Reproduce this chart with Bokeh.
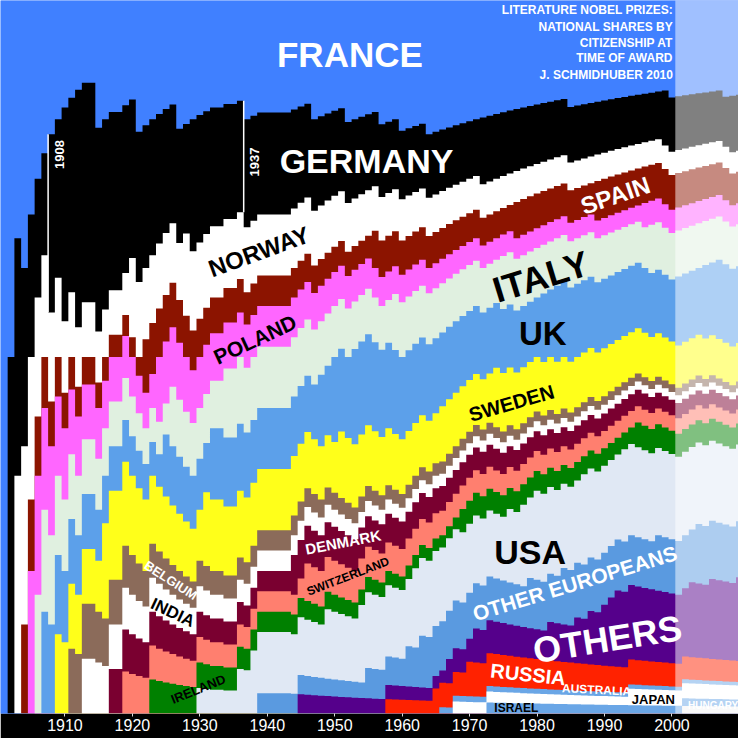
import math
from bokeh.plotting import figure
from bokeh.models import FixedTicker, BoxAnnotation, Range1d
from bokeh.core.properties import value
from bokeh.embed import file_html
from bokeh.resources import INLINE

# ---------------- data ----------------
award_years = list(range(1901, 2011))
# citizenship of literature laureates (shared prize: "A|B" -> half each, "" -> no prize counted)
award_countries = [
    "France", "Germany", "Norway", "France|Spain", "Poland",            # 1901-1905
    "Italy", "UK", "Germany", "Sweden", "Germany",                      # 1906-1910
    "Belgium", "Germany", "India", "", "France",                        # 1911-1915
    "Sweden", "Denmark", "", "Switzerland", "Norway",                   # 1916-1920
    "France", "Spain", "Ireland", "Poland", "UK",                       # 1921-1925
    "Italy", "France", "Norway", "Germany", "USA",                      # 1926-1930
    "Sweden", "UK", "", "Italy", "",                                    # 1931-1935
    "USA", "France", "USA", "Other Europeans", "",                      # 1936-1940
    "", "", "", "Denmark", "Others",                                    # 1941-1945
    "Switzerland", "France", "UK", "USA", "UK",                         # 1946-1950
    "Sweden", "France", "UK", "USA", "Other Europeans",                 # 1951-1955
    "Spain", "France", "Russia", "Italy", "France",                     # 1956-1960
    "Other Europeans", "USA", "Other Europeans", "France", "Russia",    # 1961-1965
    "Israel|Sweden", "Others", "Japan", "Ireland", "Russia",            # 1966-1970
    "Others", "Germany", "Australia", "Sweden", "Italy",                # 1971-1975
    "USA", "Spain", "USA", "Other Europeans", "USA",                    # 1976-1980
    "UK", "Others", "UK", "Other Europeans", "France",                  # 1981-1985
    "Others", "USA", "Others", "Spain", "Others",                       # 1986-1990
    "Others", "Others", "USA", "Japan", "Ireland",                      # 1991-1995
    "Poland", "Italy", "Other Europeans", "Germany", "France",          # 1996-2000
    "UK", "Hungary", "Others", "Other Europeans", "UK",                 # 2001-2005
    "Others", "UK", "France", "Germany", "Others",                      # 2006-2010
]
assert len(award_countries) == len(award_years)

# stacking order, bottom to top
countries = ["Hungary", "Australia", "Japan", "Israel", "Russia", "Others",
             "Other Europeans", "USA", "Ireland", "Switzerland", "Denmark",
             "India", "Belgium", "Sweden", "UK", "Italy", "Poland", "Spain",
             "Norway", "Germany", "France"]
band_colors = ["#f2f2f2", "#6aa6e6", "#ffffff", "#6aa6e6", "#ff2200", "#55008b",
               "#5a9ae0", "#e0e8f4", "#008000", "#ff7f6f", "#7a0030",
               "#ffffff", "#8b6b5a", "#ffff1a", "#5ca0ea", "#e0f0e0", "#ff66ff", "#8c1400",
               "#ffffff", "#000000", "#4080ff"]

tick_years = [1910, 1920, 1930, 1940, 1950, 1960, 1970, 1980, 1990, 2000]
highlight_years = [1908, 1937]
faded_from = 2001

# ---------------- derived cumulative shares ----------------
counts = {c: 0.0 for c in countries}
tops = {c: [] for c in countries}
xs = []
for yr, entry in zip(award_years, award_countries):
    if entry:
        parts = entry.split("|")
        for part in parts:
            counts[part] += 1.0 / len(parts)
    total = sum(counts.values())
    cum = 0.0
    for c in countries:
        cum += counts[c] / total
        tops[c].append(cum)
    xs.extend([yr - 0.5, yr + 0.5])

def stepped(v):
    out = []
    for a in v:
        out.extend([a, a])
    return out

W = H = 738
p = figure(width=W, height=H, output_backend="svg", toolbar_location=None,
           x_range=Range1d(1900.44, 2009.87), y_range=Range1d(0, 1),
           min_border_left=0, min_border_right=0, min_border_top=0,
           min_border_bottom=25)
p.background_fill_color = "#4080ff"
p.border_fill_color = "black"
p.outline_line_color = None
p.grid.visible = False
p.yaxis.visible = False

# draw from top band down: each band drawn from 0 to its cumulative top
for c, col in reversed(list(zip(countries, band_colors))):
    yt = stepped(tops[c])
    p.varea(x=xs, y1=[0.0] * len(xs), y2=yt, fill_color=col)

# white marker lines on the Germany band
gi = countries.index("Germany")
below_g = countries[gi - 1]
for hy, col_year in zip(highlight_years, [1908, 1936]):
    idx = award_years.index(col_year)
    p.segment(x0=[hy - 0.5], x1=[hy - 0.5], y0=[tops[below_g][idx]], y1=[tops["Germany"][idx]],
              line_color="white", line_width=1.5)

# axis
ax = p.xaxis[0]
ax.ticker = FixedTicker(ticks=tick_years)
ax.axis_line_color = None
ax.major_tick_in = 0
ax.major_tick_out = 3
ax.minor_tick_line_color = None
ax.major_tick_line_color = "#dddddd"
ax.major_label_text_color = "white"
ax.major_label_text_font = "Liberation Sans"
ax.major_label_text_font_size = "16px"
ax.major_label_standoff = 2

FONT = value("Liberation Sans")

def label(txt, x, y, size, color, angle=0.0, align="center"):
    p.text(x=[x], y=[y], text=[txt], text_font=FONT, text_font_style="bold",
           text_font_size=value(f"{size}px"), text_color=color,
           angle=math.radians(angle), text_align=align, text_baseline="middle")

label("FRANCE", 1952.25, 0.9245, 35, "white")
label("GERMANY", 1954.72, 0.7747, 34, "white")
label("NORWAY", 1938.76, 0.648, 24, "black", 20)
label("SPAIN", 1991.6, 0.7267, 24, "white", 19)
label("POLAND", 1938.18, 0.5247, 21, "black", 25)
label("ITALY", 1980.56, 0.6126, 36, "black", 17)
label("UK", 1980.85, 0.533, 33, "black")
label("SWEDEN", 1976.2, 0.4354, 20, "black", 16)
label("BELGIUM", 1925.69, 0.1868, 13, "white", -33)
label("INDIA", 1925.98, 0.1415, 17, "black", -25)
label("DENMARK", 1951.24, 0.2404, 15, "white", 11)
label("SWITZERLAND", 1951.96, 0.1923, 12, "black", 21)
label("IRELAND", 1929.76, 0.0343, 13, "black", 22)
label("USA", 1978.96, 0.2266, 34, "black")
label("OTHER EUROPEANS", 1985.6, 0.1827, 21, "white", 17)
label("OTHERS", 1990.43, 0.1044, 36, "white", 9)
label("RUSSIA", 1978.67, 0.0549, 20, "white", -6)
label("AUSTRALIA", 1988.83, 0.033, 12, "white", -3)
label("ISRAEL", 1976.93, 0.0082, 12, "black")
label("JAPAN", 1997.25, 0.0192, 13, "black")
label("HUNGARY", 2006.1, 0.011, 10, "white")
label("1908", 1909.15, 0.784, 13, "white", 90)
label("1937", 1938.17, 0.7734, 13, "white", 90)

title_lines = ["LITERATURE NOBEL PRIZES:", "NATIONAL SHARES BY", "CITIZENSHIP AT",
               "TIME OF AWARD", "J. SCHMIDHUBER 2010"]
title_y = [0.9863, 0.9629, 0.9409, 0.919, 0.8956]
for t, ty in zip(title_lines, title_y):
    label(t, 2000.15, ty, 12, "white", 0, "right")

# faded last decade
p.add_layout(BoxAnnotation(left=faded_from - 0.5, right=2012, bottom=-0.1, top=1.1,
                           fill_color="white", fill_alpha=0.5, line_color=None))

open("out.html", "w").write(file_html(p, INLINE))
